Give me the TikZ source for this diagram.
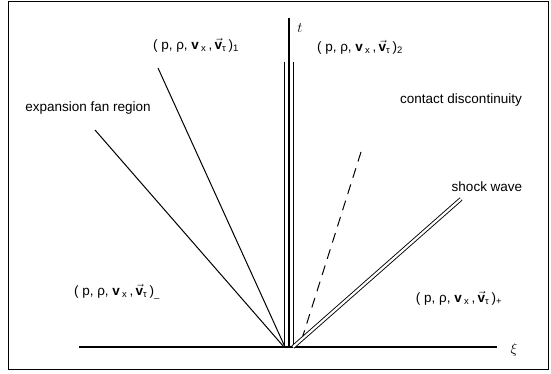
\documentclass[tikz,border=0pt]{standalone}
\usepackage{fontspec}
\setmainfont{Liberation Sans}
\newcommand{\stateset}[1]{(\;p,\;ρ,\;\textbf{v}\,\textsubscript{x}\,,\,$\vec{\textbf{v}}$\textsubscript{τ}\,)\textsubscript{#1}}
\begin{document}
\begin{tikzpicture}[
  x=1pt, y=1pt,
  label/.style={font=\fontsize{13.5}{16}\selectfont, inner sep=1pt},
  wave/.style={line width=1pt},
  shock/.style={double, double distance=2.2pt, line width=0.9pt}
]
  \useasboundingbox (0,0) rectangle (551,374);
  \draw[line width=1pt] (8,4) rectangle (548,372);

  % Axes
  \coordinate (o) at (288,27);
  \coordinate (xl) at (79,27);
  \coordinate (xr) at (497,27);
  \coordinate (ttop) at (289,356);
  \node[font=\fontsize{14}{16}\selectfont] (xi) at (514,24) {$\xi$};
  \node[font=\fontsize{14}{16}\selectfont] (tlab) at (300,346) {$t$};
  \draw[line width=1.1pt] (xl) -- (xr);
  \draw[line width=1.3pt] (ttop) -- (289,27);

  % Waves
  \coordinate (fan1) at (95,244);
  \coordinate (fan2) at (158,306);
  \coordinate (cl) at (284.5,312);
  \coordinate (cr) at (293,312);
  \coordinate (cd) at (361,222);
  \coordinate (sw) at (461,175);
  \draw[wave] (fan1) -- (284,27);
  \draw[wave] (fan2) -- (285,27);
  \draw[wave] (cl) -- (284.5,27);
  \draw[wave] (cr) -- (293,27);
  \draw[wave, dash pattern=on 10pt off 7pt] (cd) -- (300,29);
  \draw[shock] (sw) -- (293,27);

  % Labels
  \node[label] (fanlab) at (88,266) {expansion fan region};
  \node[label] (s1) at (196,329) {\stateset{1}};
  \node[label] (s2) at (360,327) {\stateset{2}};
  \node[label] (cdlab) at (461,274) {contact discontinuity};
  \node[label] (swlab) at (487,187) {shock wave};
  \node[label] (sm) at (117,82) {\stateset{\_}};
  \node[label] (sp) at (459,76) {\stateset{+}};
\end{tikzpicture}
\end{document}
